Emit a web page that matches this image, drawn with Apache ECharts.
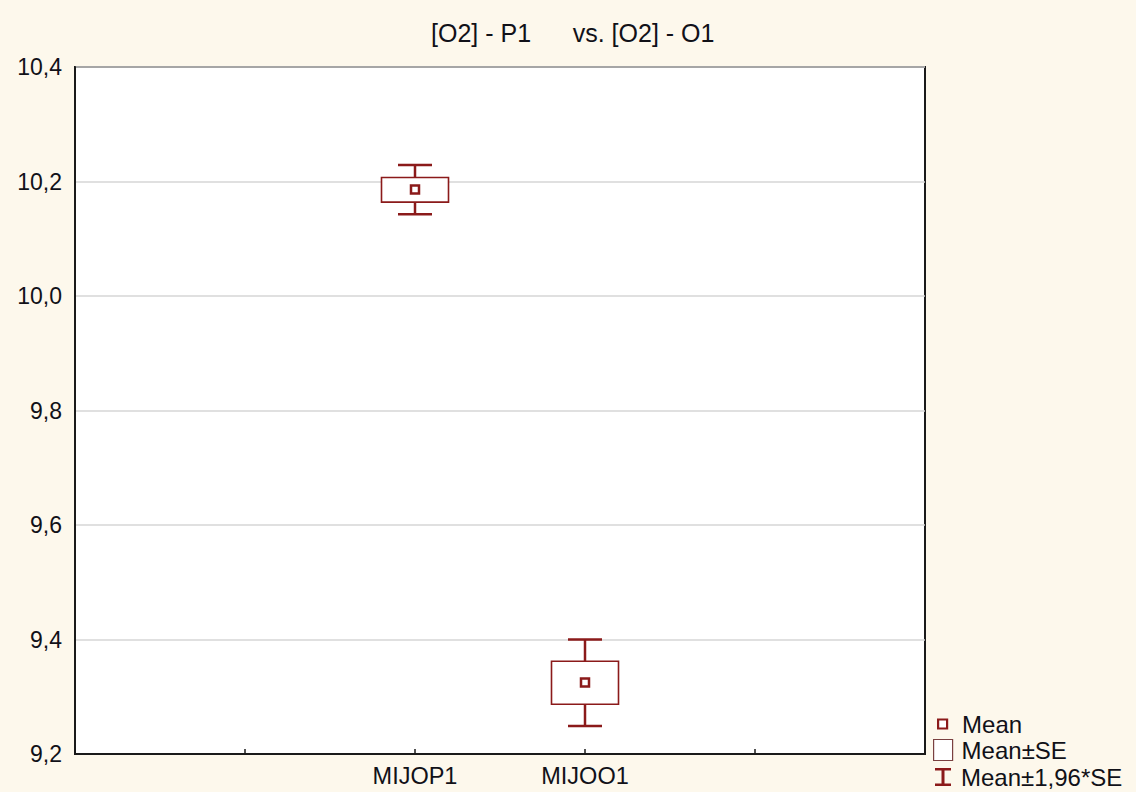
<!DOCTYPE html>
<html>
<head>
<meta charset="utf-8">
<script src="https://cdn.jsdelivr.net/npm/echarts@6/dist/echarts.min.js"></script>
<style>
  html, body { margin: 0; padding: 0; background: #fdf8ec; }
  #chart { width: 1136px; height: 792px; }
</style>
</head>
<body>
<div id="chart"></div>
<script>
// ---- data ----
const axisLabels = ['', '', 'MIJOP1', 'MIJOO1', '', ''];
const categories = ['MIJOP1', 'MIJOO1'];
const means   = [10.186, 9.325];
const seLow   = [10.164, 9.287];
const seHigh  = [10.207, 9.362];
const ciLow   = [10.143, 9.249];
const ciHigh  = [10.229, 9.400];
const yTicks  = { min: 9.2, max: 10.4, interval: 0.2 };
const titleText = '[O2] - P1\u00a0\u00a0\u00a0\u00a0\u00a0\u00a0vs. [O2] - O1';
const legendNames = ['Mean', 'Mean±SE', 'Mean±1,96*SE'];

// ---- styling ----
const RED = '#8b1a1a';
const FONT = '"Liberation Sans", Arial, sans-serif';
const TEXT = '#111118';

const xIdx = categories.map(c => axisLabels.indexOf(c));
const meanData = categories.map((c, i) => [xIdx[i], means[i]]);
const seData = categories.map((c, i) => [xIdx[i], seLow[i], seHigh[i]]);
const ciData = categories.map((c, i) => [xIdx[i], ciLow[i], ciHigh[i]]);

function renderWhisker(params, api) {
  const x = api.value(0);
  const pLo = api.coord([x, api.value(1)]);
  const pHi = api.coord([x, api.value(2)]);
  const cap = 17;
  const st = { stroke: RED, lineWidth: 2.5 };
  return {
    type: 'group',
    children: [
      { type: 'line', shape: { x1: pLo[0], y1: pLo[1], x2: pHi[0], y2: pHi[1] }, style: st },
      { type: 'line', shape: { x1: pLo[0] - cap, y1: pLo[1], x2: pLo[0] + cap, y2: pLo[1] }, style: st },
      { type: 'line', shape: { x1: pHi[0] - cap, y1: pHi[1], x2: pHi[0] + cap, y2: pHi[1] }, style: st }
    ]
  };
}

function renderBox(params, api) {
  const x = api.value(0);
  const pLo = api.coord([x, api.value(1)]);
  const pHi = api.coord([x, api.value(2)]);
  const hw = 33.5;
  return {
    type: 'rect',
    shape: { x: pLo[0] - hw, y: pHi[1], width: hw * 2, height: pLo[1] - pHi[1] },
    style: { fill: '#ffffff', stroke: RED, lineWidth: 1.6 }
  };
}

const chart = echarts.init(document.getElementById('chart'), null, { renderer: 'svg' });

const legendText = (pad) => ({ fontFamily: FONT, fontSize: 24, color: TEXT, padding: [0, 0, 0, pad] });

chart.setOption({
  backgroundColor: '#fdf8ec',
  animation: false,
  title: {
    text: titleText,
    left: 431,
    top: 20,
    padding: 0,
    textStyle: { fontFamily: FONT, fontSize: 25, fontWeight: 'normal', color: TEXT }
  },
  legend: [
    {
      data: [{ name: legendNames[0], icon: 'rect', itemStyle: { color: '#ffffff', borderColor: RED, borderWidth: 2.2 } }],
      left: 937, top: 712, padding: 0, orient: 'vertical',
      itemWidth: 9, itemHeight: 9, selectedMode: false,
      textStyle: legendText(10)
    },
    {
      data: [{ name: legendNames[1], icon: 'rect', itemStyle: { color: '#ffffff', borderColor: '#7a4040', borderWidth: 1.2 } }],
      left: 933, top: 738, padding: 0, orient: 'vertical',
      itemWidth: 19, itemHeight: 21, selectedMode: false,
      textStyle: legendText(4)
    },
    {
      data: [{ name: legendNames[2], icon: 'path://M0,0H16V2.5H9.5V15.5H16V18H0V15.5H6.5V2.5H0Z', itemStyle: { color: RED, borderWidth: 0 } }],
      left: 935, top: 765, padding: 0, orient: 'vertical',
      itemWidth: 16, itemHeight: 18, selectedMode: false,
      textStyle: legendText(5)
    }
  ],
  grid: {
    left: 75, top: 67, right: 211, bottom: 38,
    show: true, backgroundColor: '#ffffff', borderColor: '#1a1a1a', borderWidth: 2
  },
  xAxis: {
    type: 'category',
    data: axisLabels,
    boundaryGap: false,
    axisLine: { show: true, lineStyle: { color: '#1a1a1a', width: 2 } },
    axisTick: { show: true, inside: true, length: 5, lineStyle: { color: '#1a1a1a', width: 1.5 } },
    axisLabel: { fontFamily: FONT, fontSize: 23.5, color: TEXT, margin: 10, interval: 0 },
    splitLine: { show: false }
  },
  yAxis: {
    type: 'value',
    min: yTicks.min, max: yTicks.max, interval: yTicks.interval,
    axisLine: { show: true, lineStyle: { color: '#1a1a1a', width: 2 } },
    axisTick: { show: false },
    axisLabel: {
      fontFamily: FONT, fontSize: 23, color: TEXT, margin: 13,
      formatter: v => v.toFixed(1).replace('.', ',')
    },
    splitLine: { show: true, lineStyle: { color: '#d6d6d6', width: 1.5 } }
  },
  series: [
    {
      name: legendNames[2], type: 'custom', renderItem: renderWhisker, data: ciData,
      encode: { x: 0, y: [1, 2] }, itemStyle: { color: RED }, z: 2
    },
    {
      name: legendNames[1], type: 'custom', renderItem: renderBox, data: seData,
      encode: { x: 0, y: [1, 2] }, itemStyle: { color: '#ffffff', borderColor: RED }, z: 3
    },
    {
      name: legendNames[0], type: 'scatter', data: meanData,
      symbol: 'rect', symbolSize: 8,
      itemStyle: { color: '#ffffff', borderColor: RED, borderWidth: 2.5, opacity: 1 },
      z: 4
    }
  ]
});
</script>
</body>
</html>
